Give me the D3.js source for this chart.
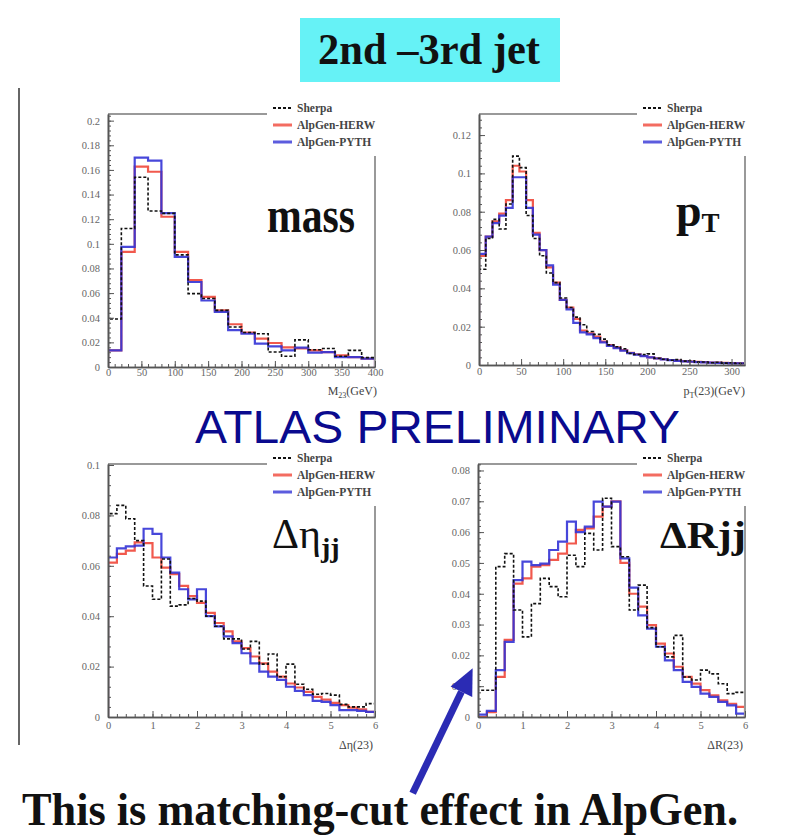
<!DOCTYPE html>
<html>
<head>
<meta charset="utf-8">
<script src="https://cdn.jsdelivr.net/npm/d3@7"></script>
<style>
  html, body { margin: 0; padding: 0; background: #fff; }
  svg { display: block; }
</style>
</head>
<body>
<svg id="chart" width="785" height="836"></svg>
<script>
// ---- Histogram contents (normalised), one array per generator ----
// Dijet mass of 2nd and 3rd jet, 20 GeV bins from 0 to 400 GeV
const massSherpa = [0.039,0.1125,0.154,0.1266,0.1247,0.091,0.0596,0.0556,0.046,0.0325,0.028,0.027,0.0122,0.0087,0.022,0.014,0.015,0.0087,0.0135,0.0076];
const massHerwig = [0.0135,0.0935,0.1626,0.1585,0.122,0.0935,0.0705,0.057,0.046,0.0347,0.028,0.023,0.0195,0.016,0.015,0.0135,0.012,0.0095,0.008,0.0068];
const massPythia = [0.0135,0.0975,0.170,0.1675,0.125,0.0894,0.069,0.054,0.0447,0.030,0.027,0.019,0.0168,0.0135,0.0157,0.0117,0.012,0.008,0.008,0.0068];

// pT of the 2-3 system, 8 GeV bins from 0 to 320 GeV
const ptSherpa = [0.050,0.066,0.076,0.071,0.084,0.109,0.103,0.078,0.066,0.057,0.048,0.043,0.035,0.030,0.025,0.021,0.0175,0.016,0.0135,0.0105,0.0095,0.0085,0.006,0.0055,0.0055,0.0058,0.0035,0.003,0.0025,0.0028,0.002,0.0022,0.0015,0.0016,0.0012,0.0014,0.001,0.0012,0.0008,0.0009];
const ptHerwig = [0.057,0.067,0.075,0.079,0.086,0.104,0.101,0.086,0.069,0.060,0.051,0.043,0.034,0.030,0.024,0.018,0.0165,0.0148,0.0122,0.0104,0.0092,0.0078,0.0064,0.0056,0.0047,0.0040,0.0035,0.0030,0.0026,0.0023,0.0020,0.0018,0.0016,0.0015,0.0013,0.0012,0.0011,0.0010,0.0010,0.0009];
const ptPythia = [0.058,0.067,0.074,0.078,0.082,0.098,0.098,0.082,0.068,0.060,0.052,0.042,0.034,0.029,0.022,0.017,0.016,0.014,0.0118,0.010,0.0088,0.0075,0.0062,0.0054,0.0046,0.0040,0.0034,0.0029,0.0025,0.0022,0.0019,0.0017,0.0015,0.0014,0.0012,0.0011,0.0010,0.0009,0.0009,0.0008];

// Delta eta between jets 2 and 3, 0.2 bins from 0 to 6
const detaSherpa = [0.0807,0.084,0.0787,0.070,0.052,0.0467,0.0627,0.044,0.0445,0.047,0.046,0.040,0.036,0.031,0.031,0.027,0.030,0.021,0.025,0.016,0.021,0.013,0.011,0.009,0.0093,0.0087,0.005,0.004,0.004,0.0053];
const detaHerwig = [0.0613,0.0647,0.066,0.0693,0.0690,0.0633,0.0593,0.0567,0.052,0.048,0.0453,0.0413,0.0373,0.034,0.030,0.0273,0.024,0.0213,0.018,0.016,0.0133,0.0117,0.010,0.008,0.0069,0.0056,0.0047,0.0037,0.003,0.002];
const detaPythia = [0.0633,0.0669,0.0677,0.068,0.0747,0.0727,0.0633,0.0573,0.0507,0.0467,0.0507,0.040,0.036,0.032,0.0293,0.0253,0.0213,0.018,0.016,0.0147,0.012,0.0104,0.0087,0.0064,0.006,0.0047,0.0027,0.0027,0.0024,0.002];

// Delta R between jets 2 and 3, 0.2 bins from 0 to 6
const drSherpa = [0.0087,0.0087,0.0488,0.053,0.0347,0.026,0.0368,0.045,0.0423,0.039,0.0525,0.0488,0.0596,0.0542,0.071,0.0553,0.052,0.0347,0.0428,0.029,0.0228,0.0195,0.0265,0.013,0.012,0.0152,0.014,0.0108,0.0076,0.008];
const drHerwig = [0,0.0016,0.013,0.025,0.0433,0.045,0.0488,0.0493,0.051,0.053,0.0563,0.0607,0.0612,0.065,0.0683,0.070,0.050,0.040,0.0358,0.0298,0.0238,0.0206,0.0163,0.013,0.0108,0.0087,0.007,0.0054,0.0043,0.0033];
const drPythia = [0.0008,0.002,0.0152,0.0244,0.0444,0.0504,0.0493,0.0498,0.0542,0.0569,0.0634,0.060,0.0618,0.0699,0.0683,0.0699,0.0515,0.042,0.033,0.0287,0.0228,0.0184,0.0152,0.0114,0.0098,0.0076,0.0065,0.0049,0.0038,0.0011];

// Legend entries
const legendLabels = ["Sherpa", "AlpGen-HERW", "AlpGen-PYTH"];

// Tick labels
const massXTicks = [0,50,100,150,200,250,300,350,400];
const massYTicks = [0,0.02,0.04,0.06,0.08,0.1,0.12,0.14,0.16,0.18,0.2];
const ptXTicks = [0,50,100,150,200,250,300];
const ptYTicks = [0,0.02,0.04,0.06,0.08,0.1,0.12];
const angXTicks = [0,1,2,3,4,5,6];
const detaYTicks = [0,0.02,0.04,0.06,0.08,0.1];
const drYTicks = [0,0.01,0.02,0.03,0.04,0.05,0.06,0.07,0.08];

// ---- Styling ----
const colSherpa = "#111";
const colHerwig = "#f0473a";
const colPythia = "#3333d6";
const serif = "'Liberation Serif','DejaVu Serif',serif";
const sans = "'Liberation Sans',Arial,sans-serif";

const svg = d3.select("#chart");

// Page furniture: title box and left margin rule
svg.append("rect").attr("x", 300).attr("y", 18).attr("width", 260).attr("height", 64).attr("fill", "#66f2f6");
svg.append("text").attr("x", 318).attr("y", 64)
  .attr("font-family", serif).attr("font-weight", "bold").attr("font-size", 44)
  .attr("textLength", 222).attr("lengthAdjust", "spacingAndGlyphs")
  .attr("fill", "#111").text("2nd \u20133rd jet");
svg.append("line").attr("x1", 19).attr("x2", 19).attr("y1", 88).attr("y2", 745)
  .attr("stroke", "#666").attr("stroke-width", 2);

// Panel layout
const panels = [
  { left:108, right:375, top:114, bottom:367, xMax:400, yMax:0.2054, bin:20, xPad:2,
    sherpa:massSherpa, herwig:massHerwig, pythia:massPythia,
    xTicks:massXTicks, xMinor:10, yTicks:massYTicks, yMinor:0.004 },
  { left:479, right:745, top:114, bottom:365, xMax:316, yMax:0.131, bin:8, xPad:3,
    sherpa:ptSherpa, herwig:ptHerwig, pythia:ptPythia,
    xTicks:ptXTicks, xMinor:10, yTicks:ptYTicks, yMinor:0.004 },
  { left:108, right:375, top:464, bottom:717, xMax:6, yMax:0.1004, bin:0.2, xPad:5,
    sherpa:detaSherpa, herwig:detaHerwig, pythia:detaPythia,
    xTicks:angXTicks, xMinor:0.2, yTicks:detaYTicks, yMinor:0.004 },
  { left:478, right:745, top:464, bottom:717, xMax:6, yMax:0.0821, bin:0.2, xPad:5,
    sherpa:drSherpa, herwig:drHerwig, pythia:drPythia,
    xTicks:angXTicks, xMinor:0.2, yTicks:drYTicks, yMinor:0.002 }
];

// Step outline of a histogram, rising from and returning to zero
function stepPath(values, binW, x, y) {
  let d = `M${x(0)},${y(0)}`;
  values.forEach((v, i) => {
    d += `L${x(i * binW)},${y(v)}L${x((i + 1) * binW)},${y(v)}`;
  });
  d += `L${x(values.length * binW)},${y(0)}`;
  return d;
}

const fmt = d3.format("~g");

panels.forEach((p, idx) => {
  const g = svg.append("g");
  const x = d3.scaleLinear().domain([0, p.xMax]).range([p.left, p.right]);
  const y = d3.scaleLinear().domain([0, p.yMax]).range([p.bottom, p.top]);
  p.x = x; p.y = y;

  // Histograms
  const clipId = "clip" + idx;
  g.append("clipPath").attr("id", clipId).append("rect")
    .attr("x", p.left).attr("y", p.top - 2).attr("width", p.right - p.left + 1).attr("height", p.bottom - p.top + 3);
  const hg = g.append("g").attr("clip-path", `url(#${clipId})`);
  hg.append("path").attr("d", stepPath(p.herwig, p.bin, x, y))
    .attr("fill", "none").attr("stroke", colHerwig).attr("stroke-width", 2.2).attr("stroke-opacity", 0.9);
  hg.append("path").attr("d", stepPath(p.pythia, p.bin, x, y))
    .attr("fill", "none").attr("stroke", colPythia).attr("stroke-width", 2.2).attr("stroke-opacity", 0.9);
  hg.append("path").attr("d", stepPath(p.sherpa, p.bin, x, y))
    .attr("fill", "none").attr("stroke", colSherpa).attr("stroke-width", 1.6).attr("stroke-dasharray", "3,2");

  // Frame (top and right)
  g.append("path").attr("d", `M${p.left},${p.top}H${p.right}V${p.bottom}`)
    .attr("fill", "none").attr("stroke", "#999").attr("stroke-width", 2);

  // Minor ticks
  const yMinorVals = d3.range(0, Math.round(p.yMax / p.yMinor) + 1).map(k => k * p.yMinor).filter(v => v <= p.yMax);
  const xMinorVals = d3.range(0, Math.round(p.xMax / p.xMinor) + 1).map(k => k * p.xMinor).filter(v => v <= p.xMax);
  const axStyle = sel => {
    sel.attr("font-family", serif).attr("font-size", 10.5);
    sel.select(".domain").attr("stroke", "#555").attr("stroke-width", 1.6);
    sel.selectAll(".tick line").attr("stroke", "#555").attr("stroke-width", 1);
    sel.selectAll("text").attr("font-family", serif).attr("font-size", 10.5).attr("fill", "#666");
  };
  g.append("g").attr("transform", `translate(${p.left},0)`)
    .call(d3.axisLeft(y).tickValues(yMinorVals).tickSizeInner(-3).tickSizeOuter(0).tickFormat(""))
    .call(axStyle);
  g.append("g").attr("transform", `translate(0,${p.bottom})`)
    .call(d3.axisBottom(x).tickValues(xMinorVals).tickSizeInner(-3).tickSizeOuter(0).tickFormat(""))
    .call(axStyle);
  // Major ticks with labels
  g.append("g").attr("transform", `translate(${p.left},0)`)
    .call(d3.axisLeft(y).tickValues(p.yTicks).tickSizeInner(-6).tickSizeOuter(0).tickPadding(8).tickFormat(fmt))
    .call(axStyle);
  g.append("g").attr("transform", `translate(0,${p.bottom})`)
    .call(d3.axisBottom(x).tickValues(p.xTicks).tickSizeInner(-6).tickSizeOuter(0).tickPadding(p.xPad).tickFormat(fmt))
    .call(axStyle);

  // Legend, sitting over the frame corner
  const lx = p.right - 102, ly = p.top - 6;
  g.append("rect").attr("x", lx - 6).attr("y", p.top - 12).attr("width", 130).attr("height", 54).attr("fill", "#fff");
  const cols = [colSherpa, colHerwig, colPythia];
  legendLabels.forEach((lab, i) => {
    const yy = ly + i * 17;
    g.append("line").attr("x1", lx).attr("x2", lx + 19).attr("y1", yy).attr("y2", yy)
      .attr("stroke", cols[i]).attr("stroke-width", i === 0 ? 1.8 : 3)
      .attr("stroke-dasharray", i === 0 ? "3,2" : null).attr("stroke-opacity", i === 0 ? 1 : 0.8);
    g.append("text").attr("x", lx + 24).attr("y", yy + 4)
      .attr("font-family", serif).attr("font-weight", "bold").attr("font-size", 11.5)
      .attr("fill", "#444").text(lab);
  });
});

// Panel names
const [pm, pp, pe, pr] = panels;
svg.append("text").attr("x", 267).attr("y", 232)
  .attr("font-family", serif).attr("font-weight", "bold").attr("font-size", 50)
  .attr("textLength", 88).attr("lengthAdjust", "spacingAndGlyphs").attr("fill", "#111").text("mass");
const ptLab = svg.append("text").attr("x", 676).attr("y", 226)
  .attr("font-family", serif).attr("font-weight", "bold").attr("font-size", 46).attr("fill", "#111");
ptLab.append("tspan").text("p");
ptLab.append("tspan").attr("font-size", 27).attr("dy", 6).text("T");
const etaLab = svg.append("text").attr("x", 272).attr("y", 548)
  .attr("font-family", serif).attr("font-size", 42).attr("fill", "#111");
etaLab.append("tspan").text("\u0394\u03b7");
etaLab.append("tspan").attr("font-size", 28).attr("font-weight", "bold").attr("dy", 9).text("jj");
svg.append("text").attr("x", 660).attr("y", 548)
  .attr("font-family", serif).attr("font-weight", "bold").attr("font-size", 38)
  .attr("textLength", 86).attr("lengthAdjust", "spacingAndGlyphs").attr("fill", "#111").text("\u0394Rjj");

// Axis titles
function axisTitle(xr, yb, parts) {
  const t = svg.append("text").attr("x", xr).attr("y", yb).attr("text-anchor", "end")
    .attr("font-family", serif).attr("font-size", 12).attr("fill", "#444");
  parts.forEach(([s, sub]) => {
    const ts = t.append("tspan").text(s);
    if (sub === 1) ts.attr("font-size", 8).attr("dy", 2.5);
    if (sub === -1) ts.attr("dy", -2.5);
  });
}
axisTitle(pm.right + 2, 395, [["M"], ["23", 1], ["(GeV)", -1]]);
axisTitle(pp.right, 395, [["p"], ["T", 1], ["(23)(GeV)", -1]]);
axisTitle(pe.right - 2, 749, [["\u0394\u03b7(23)"]]);
axisTitle(pr.right - 2, 749, [["\u0394R(23)"]]);

// Overlay stamp
svg.append("text").attr("x", 195).attr("y", 443)
  .attr("font-family", sans).attr("font-size", 46)
  .attr("textLength", 485).attr("lengthAdjust", "spacingAndGlyphs")
  .attr("fill", "#0a0a8e").text("ATLAS PRELIMINARY");

// Arrow pointing at the low-ΔR region
const tipX = pr.x(-0.12), tipY = pr.y(0.0158);
const tailX = tipX - 60, tailY = tipY + 125;
const ang = Math.atan2(tipY - tailY, tipX - tailX);
const headLen = 26, headHalf = 12;
const bx = tipX - headLen * Math.cos(ang), by = tipY - headLen * Math.sin(ang);
svg.append("line").attr("x1", tailX).attr("y1", tailY).attr("x2", bx).attr("y2", by)
  .attr("stroke", "#2b2bb4").attr("stroke-width", 7);
svg.append("path")
  .attr("d", `M${tipX},${tipY}L${bx + headHalf * Math.sin(ang)},${by - headHalf * Math.cos(ang)}L${bx - headHalf * Math.sin(ang)},${by + headHalf * Math.cos(ang)}Z`)
  .attr("fill", "#2b2bb4");

// Caption
svg.append("text").attr("x", 22).attr("y", 825)
  .attr("font-family", serif).attr("font-weight", "bold").attr("font-size", 46)
  .attr("textLength", 716).attr("lengthAdjust", "spacingAndGlyphs")
  .attr("fill", "#111").text("This is matching-cut effect in AlpGen.");
</script>
</body>
</html>
